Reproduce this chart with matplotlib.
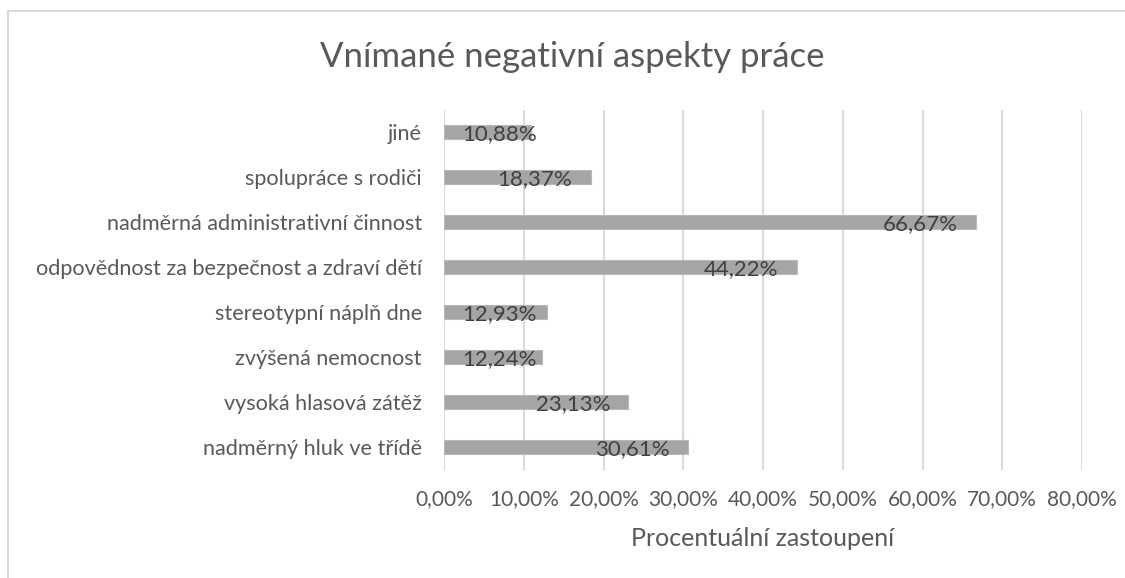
import matplotlib.pyplot as plt
from matplotlib.lines import Line2D
from matplotlib.ticker import FuncFormatter

plt.rcParams['font.family'] = ['Lato', 'DejaVu Sans']

# Data (shora dolů)
kategorie = ['jiné', 'spolupráce s rodiči', 'nadměrná administrativní činnost',
             'odpovědnost za bezpečnost a zdraví dětí', 'stereotypní náplň dne',
             'zvýšená nemocnost', 'vysoká hlasová zátěž', 'nadměrný hluk ve třídě']
hodnoty = [10.88, 18.37, 66.67, 44.22, 12.93, 12.24, 23.13, 30.61]
x_ticky = [0, 10, 20, 30, 40, 50, 60, 70, 80]

text_barva = '#595959'

fig = plt.figure(figsize=(11.25, 5.78), dpi=100)
ax = fig.add_axes([444 / 1125, 1 - 469.5 / 578, 638 / 1125, 360 / 578])

pozice = list(range(len(kategorie)))
bary = ax.barh(pozice, hodnoty, height=0.33, color='#a5a5a5', edgecolor='#b8b8b8',
               linewidth=0.8, zorder=3)

ax.set_yticks(pozice)
ax.set_yticklabels(kategorie)
ax.set_ylim(len(kategorie) - 0.5, -0.5)
ax.set_xlim(0, 80)
ax.set_xticks(x_ticky)
ax.xaxis.set_major_formatter(FuncFormatter(lambda v, p: f'{v:.2f}%'.replace('.', ',')))
ax.tick_params(axis='x', length=0, pad=14, labelsize=15, labelcolor=text_barva)
ax.tick_params(axis='y', length=0, pad=16, labelsize=15.6, labelcolor=text_barva)
ax.grid(axis='x', color='#d9d9d9', linewidth=1.5, zorder=0)
ax.grid(axis='y', visible=False)
for s in ax.spines.values():
    s.set_visible(False)

# popisky hodnot - uvnitř konce sloupce, jako v Excelu (okraj ~13 pt)
okraj = 13
fig.canvas.draw()
r = fig.canvas.get_renderer()
for b, h in zip(bary, hodnoty):
    y = b.get_y() + b.get_height() / 2
    t = ax.annotate(f'{h:.2f}%'.replace('.', ','), (b.get_width(), y),
                    xytext=(-okraj, -1.5), textcoords='offset points', ha='right', va='center',
                    fontsize=16, color='#404040', zorder=4)
    sirka = t.get_window_extent(r).width
    delka = ax.transData.transform((b.get_width(), 0))[0] - ax.transData.transform((0, 0))[0]
    if delka - 2 * okraj * 100 / 72 < sirka:
        t.xy = (0, y)
        t.set_position((okraj, -1.5))
        t.set_ha('left')

fig.text(572 / 1125, 1 - 57 / 578, 'Vnímané negativní aspekty práce', ha='center', va='center',
         fontsize=25, color=text_barva)
fig.text(763 / 1125, 1 - 538 / 578, 'Procentuální zastoupení', ha='center', va='center',
         fontsize=18, color=text_barva)

# rámeček grafu
fig.add_artist(Line2D([8 / 1125, 8 / 1125, 1], [0, 1 - 11 / 578, 1 - 11 / 578],
                      transform=fig.transFigure, color='#d9d9d9', linewidth=1.5))

fig.savefig('out.png', dpi=100)
